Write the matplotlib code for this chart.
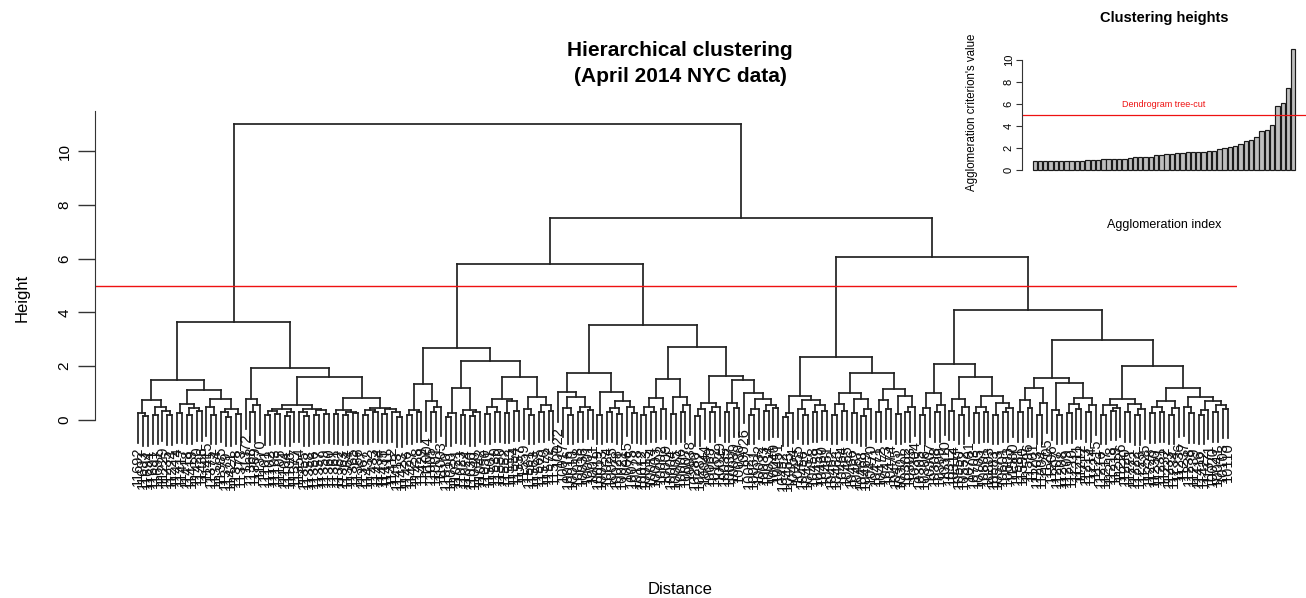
import matplotlib
matplotlib.use("Agg")
import matplotlib.pyplot as plt
from matplotlib.collections import LineCollection

plt.rcParams['font.family'] = ['Liberation Sans', 'DejaVu Sans']

# ---------------------------------------------------------------------------
# Dendrogram data, Newick style: leaves are ZIP codes, the number after each
# closing parenthesis is the agglomeration height of that merge.
# ---------------------------------------------------------------------------
cluster_1 = """
((((11692,(11693,11694)0.15)0.26,((11691,11697)0.2,(11229,(11235,11224)0.18)0.32)0.48)0.74,
  (((11414,11417)0.26,((11418,11419)0.2,(11420,11436)0.32)0.45)0.6,
   ((11415,(11375,11374)0.2)0.5,((11385,(11379,11421)0.12)0.3,(11378,11373)0.22)0.42)0.78)1.12)1.49,
 ((11372,((11368,11369)0.3,11370)0.55)0.78,
  (((((11101,11102)0.18,(11103,11105)0.22)0.33,((11104,11106)0.15,11377)0.28)0.42,
    ((11354,(11355,11358)0.14)0.28,((11356,11357)0.2,(11359,11360)0.24)0.36)0.4)0.55,
   (((11361,11362)0.22,((11363,11364)0.18,(11365,11366)0.26)0.3)0.37,
    (((11367,11432)0.2,(11433,11434)0.28)0.38,((11435,11411)0.24,(11412,(11413,11423)0.1)0.3)0.4)0.45)0.82)1.6)1.93)3.64
"""

cluster_2 = """
((((11426,11427)0.2,(11428,11429)0.3)0.37,(11004,((11005,11001)0.3,11003)0.5)0.7)1.34,
 ((((11010,11020)0.12,11021)0.25,((11023,11024)0.2,((11030,11040)0.15,11042)0.28)0.37)1.2,
  ((((11050,11501)0.22,(11530,11550)0.3)0.5,((11552,11553)0.25,(11554,11557)0.33)0.72)0.78,
   ((11559,(11561,11563)0.2)0.4,((11565,11570)0.28,(11572,11575)0.35)0.55)0.85)1.6)2.2)2.66
"""

cluster_3 = """
(((10022,((10017,(10016,10010)0.2)0.45,((10018,10036)0.3,(10001,10011)0.38)0.5)0.86)1.04,
  ((10019,10023)0.2,(((10024,10025)0.3,(10028,10021)0.22)0.45,(10065,(10075,10128)0.25)0.5)0.72)1.04)1.74,
 (((((10012,10013)0.2,(10014,10003)0.3)0.5,(10002,10009)0.4)0.82,
   ((10004,10005)0.22,((10006,10007)0.3,10038)0.55)0.86)1.52,
  ((((10280,10282)0.15,10044)0.4,((10069,10162)0.3,10029)0.5)0.63,
   (((10035,10037)0.3,(10039,10030)0.45)0.62,
    (10026,(((10027,10031)0.2,10032)0.4,((10033,10034)0.35,(10040,10451)0.45)0.55)0.78)1.0)1.48)1.63)2.72)3.53
"""

cluster_4 = """
((((10452,10453)0.12,10454)0.26,((10455,(10456,10457)0.2)0.4,((10458,10459)0.3,(10460,10461)0.35)0.55)0.74)0.89,
 ((((10462,10463)0.2,(10464,10465)0.35)0.6,((10466,10467)0.25,((10468,10469)0.15,10470)0.4)0.78)1.0,
  (((10471,10472)0.3,(10473,10474)0.4)0.74,((10475,10301)0.22,((10302,10303)0.3,10304)0.5)0.9)1.15)1.74)2.34
"""

cluster_5 = """
(((((10305,10306)0.2,10307)0.45,((10308,10309)0.3,10310)0.55)1.0,
  (((10312,10314)0.35,((10550,10552)0.2,10701)0.5)0.78,
   (((10703,10705)0.25,(10801,10803)0.3)0.5,((10583,10573)0.2,((10601,10603)0.3,11580)0.45)0.62)0.89)1.6)2.1,
 (((((11581,11590)0.3,(11596,11201)0.45)0.74,((11203,11204)0.2,11205)0.62)1.18,
   ((11206,(11207,11208)0.2)0.37,(((11209,11210)0.25,(11211,11212)0.4)0.6,((11213,11214)0.3,11215)0.55)0.82)1.37)1.55,
  ((((11216,11217)0.2,((11218,11219)0.35,11226)0.45)0.55,((11220,11221)0.28,((11222,11223)0.18,11225)0.4)0.6)0.78,
   ((((11228,11230)0.25,(11231,11232)0.3)0.5,((11233,11234)0.2,11236)0.45)0.72,
    ((11237,(11238,11239)0.25)0.5,(((11416,11422)0.2,11371)0.38,((10020,10041)0.3,(10103,10110)0.42)0.55)0.7)0.85)1.2)2.02)2.97)4.09
"""

# Heights of the merges joining the five clusters: (2,3), (4,5), upper right, root
top_merge_heights = [5.8, 6.05, 7.5, 11.0]

cut_height = 5.0
n_top_heights = 50

title_lines = ["Hierarchical clustering", "(April 2014 NYC data)"]
height_ticks = [0, 2, 4, 6, 8, 10]

# ---------------------------------------------------------------------------
tree_text = "({c1},(({c2},{c3}){h23},({c4},{c5}){h45}){hr}){hroot}".format(
    c1=cluster_1, c2=cluster_2, c3=cluster_3, c4=cluster_4, c5=cluster_5,
    h23=top_merge_heights[0], h45=top_merge_heights[1],
    hr=top_merge_heights[2], hroot=top_merge_heights[3])
tree_text = "".join(tree_text.split())


def parse_newick(s):
    pos = 0

    def node():
        nonlocal pos
        if s[pos] == '(':
            pos += 1
            kids = [node()]
            while s[pos] == ',':
                pos += 1
                kids.append(node())
            pos += 1  # closing parenthesis
            start = pos
            while pos < len(s) and (s[pos].isdigit() or s[pos] == '.'):
                pos += 1
            return {'h': float(s[start:pos]), 'kids': kids}
        start = pos
        while pos < len(s) and s[pos] not in ',()':
            pos += 1
        return {'label': s[start:pos]}

    return node()


root = parse_newick(tree_text)

hang = 0.1 * root['h']
leaves = []
segments = []
merge_heights = []


def layout(n):
    if 'label' in n:
        n['x'] = len(leaves)
        leaves.append(n)
        return
    for k in n['kids']:
        layout(k)
    xs = [k['x'] for k in n['kids']]
    n['x'] = (xs[0] + xs[-1]) / 2.0
    merge_heights.append(n['h'])
    segments.append([(min(xs), n['h']), (max(xs), n['h'])])
    for k in n['kids']:
        if 'label' in k:
            k['bottom'] = n['h'] - hang
            bottom = k['bottom']
        else:
            bottom = k['h']
        segments.append([(k['x'], bottom), (k['x'], n['h'])])


layout(root)
n_leaves = len(leaves)

# ---------------------------------------------------------------------------
W, H = 1306, 598
fig = plt.figure(figsize=(W / 100, H / 100), dpi=100)
fig.patch.set_facecolor('white')


def fx(px):
    return px / W


def fy(py):
    return 1 - py / H


# main dendrogram axes
ppu = 26.9            # pixels per height unit
y0_px = 420           # pixel row of height 0
ymin, ymax = -3.0, 11.6
ax_bottom_px = y0_px - ymin * ppu
ax_top_px = y0_px - ymax * ppu
ax = fig.add_axes([fx(95), fy(ax_bottom_px), fx(1237 - 95),
                   (ax_bottom_px - ax_top_px) / H])
ax.set_ylim(ymin, ymax)
step = (1228 - 138) / (n_leaves - 1)
ax.set_xlim(-(138 - 95) / step, (n_leaves - 1) + (1237 - 1228) / step)

ax.add_collection(LineCollection(segments, colors='#222222', linewidths=1.25,
                                 capstyle='projecting', clip_on=False))
for lf in leaves:
    ax.text(lf['x'], lf['bottom'] - 0.15, lf['label'], rotation=90,
            ha='center', va='top', fontsize=10.5, color='#111111',
            clip_on=False)

ax.axhline(cut_height, color='#ee1111', lw=1.0)

for side in ('top', 'right', 'bottom'):
    ax.spines[side].set_visible(False)
ax.spines['left'].set_bounds(0, 11.5)
ax.spines['left'].set_color('#333333')
ax.set_xticks([])
ax.set_yticks(height_ticks)
ax.set_yticklabels([str(t) for t in height_ticks])
ax.tick_params(axis='y', length=12, width=1, color='#333333', labelsize=11,
               labelrotation=90, pad=5)
for t in ax.get_yticklabels():
    t.set_va('center')
ax.patch.set_alpha(0)

fig.text(fx(22), fy(298), "Height", rotation=90, ha='center', va='center',
         fontsize=12)
fig.text(fx(680), fy(50), title_lines[0], ha='center', va='center',
         fontsize=15, weight='bold')
fig.text(fx(680), fy(76), title_lines[1], ha='center', va='center',
         fontsize=15, weight='bold')
fig.text(fx(680), fy(590), "Distance", ha='center', va='center', fontsize=12)

# inset: the largest agglomeration heights, sorted
top_heights = sorted(merge_heights)[-n_top_heights:]
bar_x = [0.7 + 1.2 * i for i in range(len(top_heights))]
span = bar_x[-1] + 0.5 - 0.2
ins_xlim = (0.2 - 0.04 * span, bar_x[-1] + 0.5 + 0.04 * span)
ins_ylim = (-0.44, 11.44)
ins_ppu = 11.0
ins_bottom_px = 170 - ins_ylim[0] * ins_ppu
ins_top_px = 170 - ins_ylim[1] * ins_ppu
ins = fig.add_axes([fx(1022), fy(ins_bottom_px), fx(1306 - 1022),
                    (ins_bottom_px - ins_top_px) / H])
ins.bar(bar_x, top_heights, width=1.0, color='#bebebe', edgecolor='#1a1a1a',
        linewidth=0.85)
ins.set_xlim(*ins_xlim)
ins.set_ylim(*ins_ylim)
ins.axhline(cut_height, color='#ee1111', lw=0.9)
ins.text(30.1, 6.0, "Dendrogram tree-cut", color='#ee1111', fontsize=6.5,
         ha='center', va='center')
for side in ('top', 'right', 'bottom'):
    ins.spines[side].set_visible(False)
ins.spines['left'].set_bounds(0, 10)
ins.spines['left'].set_color('#333333')
ins.set_xticks([])
ins.set_yticks(height_ticks)
ins.set_yticklabels([str(t) for t in height_ticks])
ins.tick_params(axis='y', length=4, width=0.8, color='#333333', labelsize=8,
                labelrotation=90, pad=2)
for t in ins.get_yticklabels():
    t.set_va('center')
ins.patch.set_alpha(0)

fig.text(fx(1164), fy(18), "Clustering heights", ha='center', va='center',
         fontsize=10.5, weight='bold')
fig.text(fx(972), fy(112), "Agglomeration criterion's value", rotation=90,
         ha='center', va='center', fontsize=8.3)
fig.text(fx(1164), fy(225), "Agglomeration index", ha='center', va='center',
         fontsize=9)

fig.savefig("out.png", dpi=100, facecolor='white')
